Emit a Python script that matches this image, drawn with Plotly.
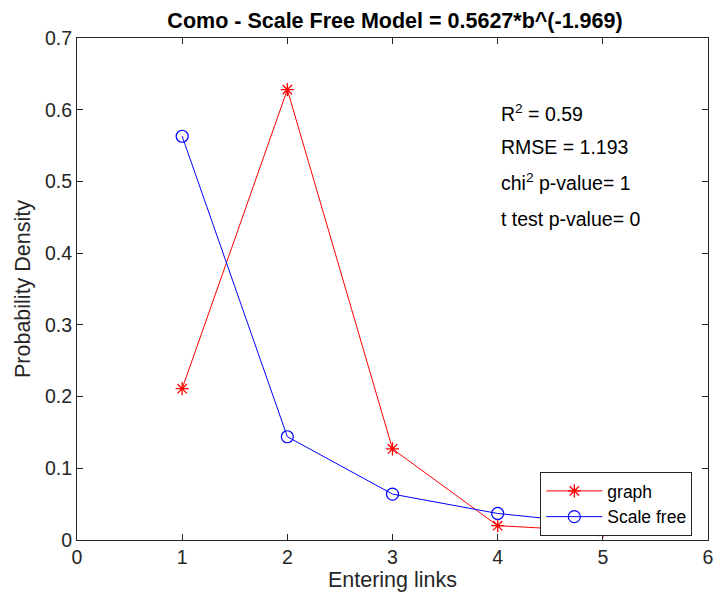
import plotly.graph_objects as go

x_vals = [1, 2, 3, 4, 5]
graph_vals = [0.211, 0.628, 0.127, 0.020, 0.012]
scale_free_vals = [0.563, 0.144, 0.064, 0.037, 0.022]
x_ticks = [0, 1, 2, 3, 4, 5, 6]
y_ticks = [0, 0.1, 0.2, 0.3, 0.4, 0.5, 0.6, 0.7]
y_tick_labels = ["0", "0.1", "0.2", "0.3", "0.4", "0.5", "0.6", "0.7"]
title_text = "Como - Scale Free Model = 0.5627*b^(-1.969)"
stats_lines = ["R<sup>2</sup> = 0.59", "RMSE = 1.193", "chi<sup>2</sup> p-value= 1", "t test p-value= 0"]
stats_y = [0.595, 0.548, 0.499, 0.448]

FONT = "Liberation Sans, Arial, sans-serif"
AX = "#262626"

fig = go.Figure()
fig.add_trace(go.Scatter(
    x=x_vals, y=graph_vals, name="graph", mode="lines+markers",
    line=dict(color="#ff0000", width=1),
    marker=dict(symbol="asterisk-open", size=11, color="#ff0000",
                line=dict(color="#ff0000", width=1.3)),
))
fig.add_trace(go.Scatter(
    x=x_vals, y=scale_free_vals, name="Scale free", mode="lines+markers",
    line=dict(color="#0000ff", width=1),
    marker=dict(symbol="circle-open", size=12, color="#0000ff",
                line=dict(color="#0000ff", width=1.2)),
))

for txt, yy in zip(stats_lines, stats_y):
    fig.add_annotation(x=4.01, y=yy, xref="x", yref="y", text=txt, showarrow=False,
                       xanchor="left", yanchor="middle",
                       font=dict(family=FONT, size=19.5, color="#000000"))

axis_common = dict(showline=True, linecolor=AX, linewidth=1, mirror="ticks",
                   ticks="inside", ticklen=6, tickcolor=AX, tickwidth=1,
                   showgrid=False, zeroline=False,
                   tickfont=dict(family=FONT, size=19.5, color=AX))

fig.update_layout(
    width=721, height=606,
    margin=dict(l=77, r=8, t=38, b=66),
    paper_bgcolor="white", plot_bgcolor="white",
    title=dict(text="<b>" + title_text + "</b>", x=395 / 721, xanchor="center",
               y=1 - 20 / 606, yanchor="middle",
               font=dict(family=FONT, size=21.5, color="#000000")),
    xaxis=dict(range=[0, 6], tickvals=x_ticks, title=dict(text="Entering links",
               font=dict(family=FONT, size=21.5, color=AX), standoff=4), **axis_common),
    yaxis=dict(range=[0, 0.7], tickvals=y_ticks, ticktext=y_tick_labels,
               title=dict(text="Probability Density", font=dict(family=FONT, size=21.5, color=AX),
                          standoff=8), **axis_common),
    legend=dict(x=(544 - 77) / 636, y=(540 - 472) / 502, xanchor="left", yanchor="top",
                bgcolor="white", bordercolor=AX, borderwidth=1,
                font=dict(family=FONT, size=17.5, color="#000000"),
                itemwidth=56, tracegroupgap=0),
    showlegend=True,
)

fig.write_html("out.html")
